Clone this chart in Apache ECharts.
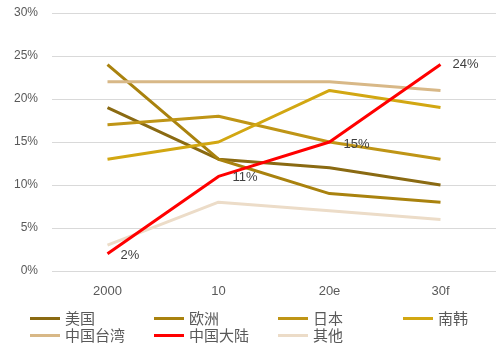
<!DOCTYPE html>
<html><head><meta charset="utf-8">
<script src="https://cdn.jsdelivr.net/npm/echarts@6/dist/echarts.min.js"></script>
<style>html,body{margin:0;padding:0;background:#fff}#c{width:500px;height:349px}</style>
</head><body><div id="c"></div>
<script>
const categories = ['2000', '10', '20e', '30f'];
const seriesNames = ['美国', '欧洲', '日本', '南韩', '中国台湾', '中国大陆', '其他'];
const usa = [19, 13, 12, 10];
const europe = [24, 13, 9, 8];
const japan = [17, 18, 15, 13];
const korea = [13, 15, 21, 19];
const taiwan = [22, 22, 22, 21];
const mainland = [2, 11, 15, 24];
const others = [3, 8, 7, 6];
const yTicks = [0, 5, 10, 15, 20, 25, 30];

const colors = ['#8a6a12', '#a9820e', '#bf9516', '#d2a712', '#d8b887', '#ff0000', '#ecdcc8'];
const allData = [usa, europe, japan, korea, taiwan, mainland, others];

const chart = echarts.init(document.getElementById('c'));
const labelOffs = [[8, 2], [9, 1], [9, 2], [7, 0]];
const series = seriesNames.map((n, i) => ({
  name: n, type: 'line', z: i === 5 ? 10 : 2,
  symbol: i === 5 ? 'circle' : 'none', symbolSize: i === 5 ? 0.1 : 4, showSymbol: i === 5,
  data: i === 5 ? allData[i].map((v, j) => ({
    value: v,
    label: { show: true, position: 'right', formatter: '{c}%', color: '#404040', fontSize: 13,
      fontFamily: 'Liberation Sans, Arial, sans-serif', offset: labelOffs[j] }
  })) : allData[i],
  lineStyle: { width: 3, color: colors[i] }, itemStyle: { color: colors[i] },
  label: { show: i === 5, position: 'right', formatter: '{c}%' }
}));

const legendPos = [[25, 306], [149, 306], [273, 306], [398, 306], [25, 323], [149, 323], [273, 323]];
const legends = seriesNames.map((n, i) => ({
  data: [n], left: legendPos[i][0], top: legendPos[i][1], itemWidth: 30, itemHeight: 3, itemGap: 4,
  icon: 'rect',
  textStyle: { color: '#595959', fontSize: 15, fontFamily: 'Noto Sans CJK SC' }
}));

chart.setOption({
  animation: false,
  color: colors,
  grid: { left: 52, right: 4, top: 13, bottom: 78 },
  xAxis: {
    type: 'category', data: categories, boundaryGap: true,
    axisLine: { show: false }, axisTick: { show: false },
    axisLabel: { color: '#595959', fontSize: 13, margin: 14, fontFamily: 'Liberation Sans, Arial, sans-serif' }
  },
  yAxis: {
    type: 'value', min: yTicks[0], max: yTicks[yTicks.length - 1], interval: 5,
    axisLabel: { formatter: '{value}%', color: '#595959', fontSize: 12, margin: 14, fontFamily: 'Liberation Sans, Arial, sans-serif' },
    splitLine: { lineStyle: { color: '#d9d9d9', width: 1 } },
    axisLine: { show: false }, axisTick: { show: false }
  },
  legend: legends,
  series: series
});
</script></body></html>
